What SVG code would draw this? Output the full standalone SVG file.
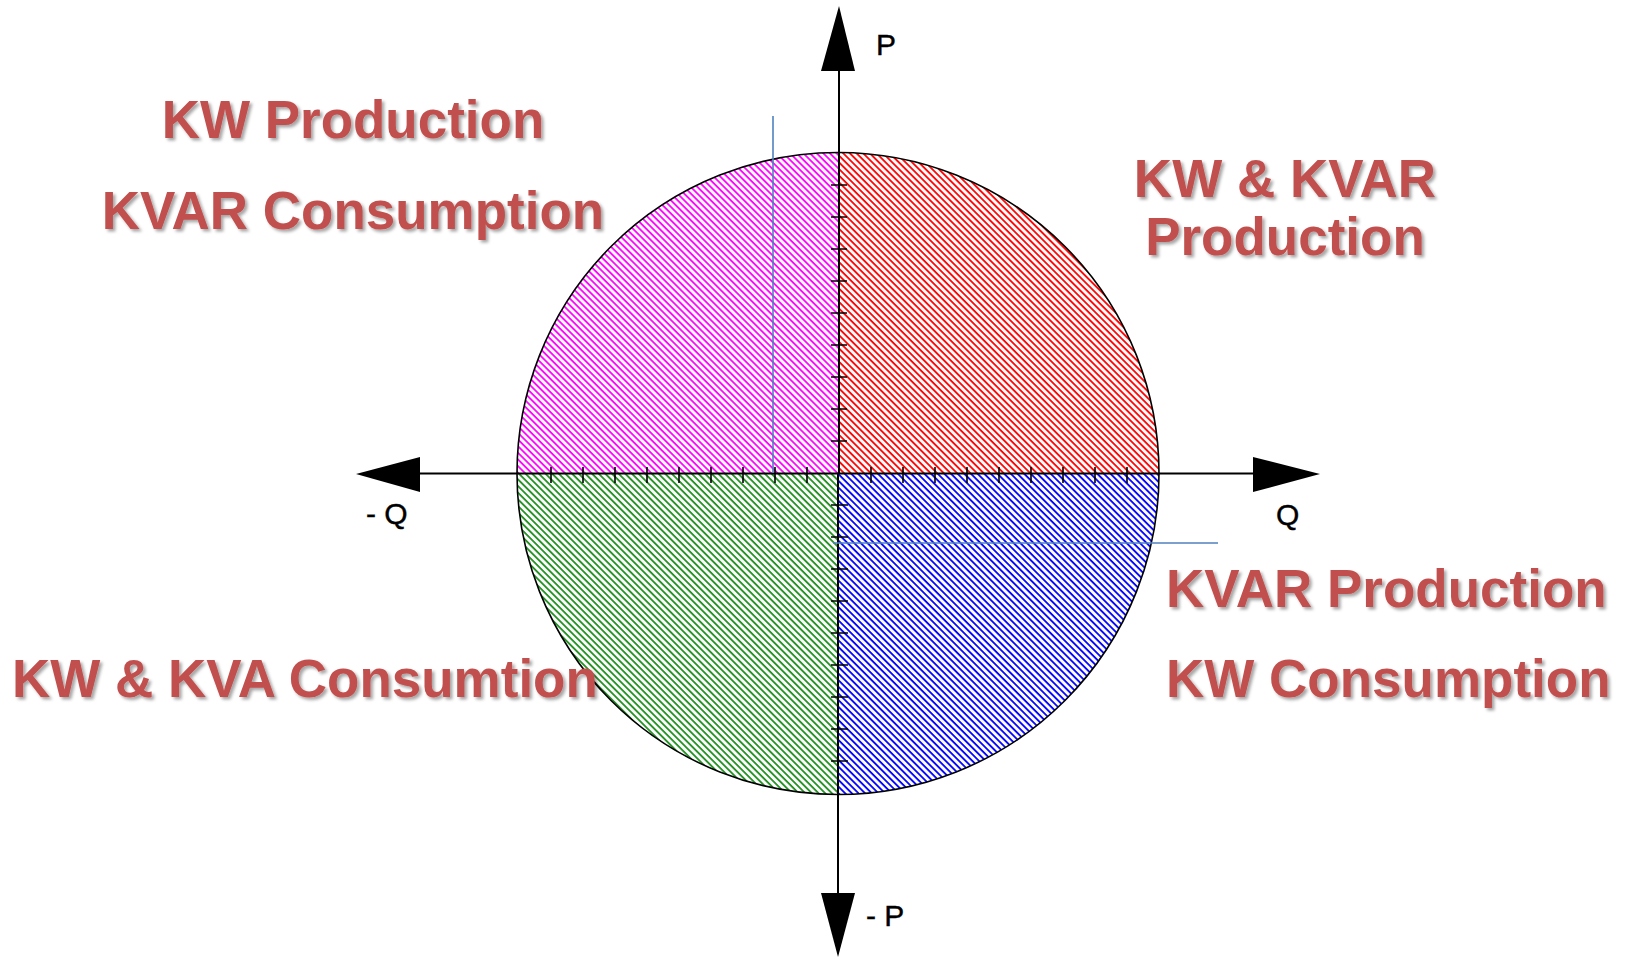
<svg xmlns="http://www.w3.org/2000/svg" width="1625" height="957" viewBox="0 0 1625 957">
<style>
.lbl{font-family:"Liberation Sans",Arial,sans-serif;font-weight:bold;font-size:53px;fill:#c0504d;filter:url(#sh)}
.ax{font-family:"Liberation Sans",Arial,sans-serif;font-size:30px;fill:#000;stroke:#000;stroke-width:0.4}
.axl{stroke:#000;stroke-width:2;fill:none}
.tick{stroke:#000;stroke-width:1.6}
.guide{stroke:#4f81bd;stroke-width:1.6}
</style>
<defs>
<filter id="sh" x="-5%" y="-20%" width="110%" height="140%">
<feDropShadow dx="2.5" dy="2.5" stdDeviation="1.5" flood-color="#000" flood-opacity="0.35"/>
</filter>
<pattern id="hm" width="4.7" height="4.7" patternUnits="userSpaceOnUse" patternTransform="rotate(45)"><rect width="4.7" height="1.8" fill="#ff00ff"/></pattern>
<pattern id="hr" width="4.7" height="4.7" patternUnits="userSpaceOnUse" patternTransform="rotate(45)"><rect width="4.7" height="1.8" fill="#ff0000"/></pattern>
<pattern id="hg" width="4.7" height="4.7" patternUnits="userSpaceOnUse" patternTransform="rotate(45)"><rect width="4.7" height="1.8" fill="#1e8f1e"/></pattern>
<pattern id="hb" width="4.7" height="4.7" patternUnits="userSpaceOnUse" patternTransform="rotate(45)"><rect width="4.7" height="1.8" fill="#0000ff"/></pattern>
<clipPath id="cq"><circle cx="838" cy="473.5" r="321"/></clipPath>
</defs>
<rect width="1625" height="957" fill="#fff"/>
<g id="circle">
<g clip-path="url(#cq)">
<rect x="500" y="140" width="339" height="333" fill="url(#hm)"/>
<rect x="839" y="140" width="340" height="333" fill="url(#hr)"/>
<rect x="500" y="473" width="339" height="340" fill="url(#hg)"/>
<rect x="839" y="473" width="340" height="340" fill="url(#hb)"/>
</g>
<circle cx="838" cy="473.5" r="321" fill="none" stroke="#000" stroke-width="1.6"/>
</g>
<g id="connectors">
<line class="axl" x1="839" y1="60" x2="839" y2="473"/>
<line class="axl" x1="838" y1="473" x2="838" y2="900"/>
<polygon points="839,6 821,71 855,71" fill="#000"/>
<polygon points="821,893 855,893 838,957" fill="#000"/>
<line class="axl" x1="410" y1="473.5" x2="1262" y2="473.5"/>
<polygon points="356,474 420,457 420,492" fill="#000"/>
<polygon points="1253,457 1253,492 1320,474" fill="#000"/>
<g id="ticks">
<path class="tick" d="M551,467V483M583,467V483M615,467V483M647,467V483M679,467V483M711,467V483M743,467V483M775,467V483M807,467V483M871,467V483M903,467V483M935,467V483M967,467V483M999,467V483M1031,467V483M1063,467V483M1095,467V483M1127,467V483"/>
<path class="tick" d="M831,185H847M831,217H847M831,249H847M831,281H847M831,313H847M831,345H847M831,377H847M831,409H847M831,441H847M831,505H848M831,537H848M831,569H848M831,601H848M831,633H848M831,665H848M831,697H848M831,729H848M831,761H848"/>
</g>
<line class="guide" x1="773" y1="116" x2="773" y2="473"/>
<line class="guide" x1="833" y1="543" x2="1218" y2="543"/>
</g>
<g id="axis-labels">
<text class="ax" x="876" y="55">P</text>
<text class="ax" x="1276" y="525">Q</text>
<text class="ax" x="366" y="524">- Q</text>
<text class="ax" x="866" y="926">- P</text>
</g>
<g id="q2-label">
<text class="lbl" x="353" y="138" text-anchor="middle">KW Production</text>
<text class="lbl" x="353" y="229" text-anchor="middle">KVAR Consumption</text>
</g>
<g id="q1-label">
<text class="lbl" x="1285" y="197" text-anchor="middle">KW &amp; KVAR</text>
<text class="lbl" x="1285" y="255" text-anchor="middle">Production</text>
</g>
<g id="q4-label">
<text class="lbl" x="1166" y="607">KVAR Production</text>
<text class="lbl" x="1166" y="697">KW Consumption</text>
</g>
<g id="q3-label">
<text class="lbl" x="12" y="697">KW &amp; KVA Consumtion</text>
</g>
</svg>
